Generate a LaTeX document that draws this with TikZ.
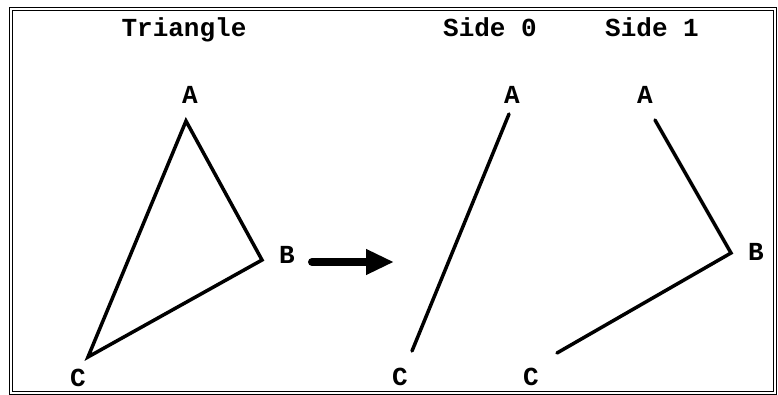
\documentclass[tikz,border=0pt]{standalone}
\usepackage{fontspec}
\setmainfont{Liberation Mono}
\usetikzlibrary{arrows.meta}

\begin{document}
\begin{tikzpicture}[x=1pt,y=1pt,
	every node/.style={font=\fontsize{26}{28}\selectfont\bfseries},
	side/.style={line width=3.5pt, line cap=round, line join=miter}]
	\useasboundingbox (0,0) rectangle (778,395);
	\draw[double, double distance=2.5pt, line width=0.9pt] (11,2) rectangle (775,386);
	% triangle
	\coordinate (A) at (186,274);
	\coordinate (B) at (262,135);
	\coordinate (C) at (88,38);
	\draw[side] (A) -- (B) -- (C) -- cycle;
	\node[anchor=base] (title) at (184,358) {Triangle};
	\node (la) at (190,300) {A};
	\node (lb) at (287,140) {B};
	\node (lc) at (78,17) {C};
	% arrow
	\coordinate (p) at (312,133);
	\coordinate (q) at (394,133);
	\draw[line width=8pt, line cap=round, -{Triangle[length=28pt,width=24pt]}] (p) -- (q);
	% side 0
	\coordinate (A0) at (509,281);
	\coordinate (C0) at (412,44);
	\draw[side] (A0) -- (C0);
	\node[anchor=base] (title0) at (490,358) {Side 0};
	\node (la0) at (512,300) {A};
	\node (lc0) at (400,18) {C};
	% side 1
	\coordinate (A1) at (655,275);
	\coordinate (B1) at (731,142);
	\coordinate (C1) at (557,42);
	\draw[side] (A1) -- (B1) -- (C1);
	\node[anchor=base] (title1) at (652,358) {Side 1};
	\node (la1) at (645,300) {A};
	\node (lb1) at (756,143) {B};
	\node (lc1) at (531,18) {C};
\end{tikzpicture}
\end{document}
